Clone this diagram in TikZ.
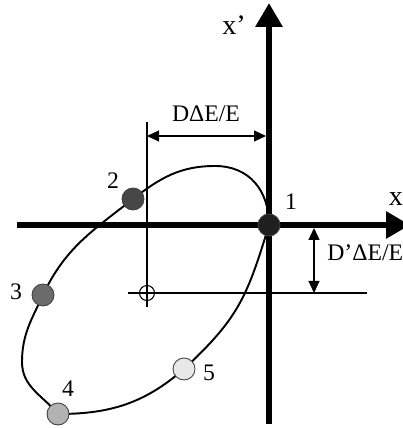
\documentclass[tikz,border=0pt]{standalone}
\usepackage{fontspec}
\setmainfont{Liberation Serif}
\usetikzlibrary{arrows.meta}

\begin{document}
\begin{tikzpicture}[x=0.02cm, y=0.02cm, font=\fontsize{13.5}{15}\selectfont,
axisline/.style={line width=3.4pt,-{Triangle[length=0.48cm,width=0.52cm]}},
orbit/.style={line width=1.1pt},
guide/.style={line width=0.6pt},
dimarr/.style={line width=0.6pt,{Triangle[length=0.24cm,width=0.22cm]}-{Triangle[length=0.24cm,width=0.22cm]}},
dot/.style={circle,draw=black!75,line width=0.5pt,minimum size=0.44cm,inner sep=0pt},
lbl/.style={inner sep=0pt},
axlbl/.style={inner sep=0pt,font=\fontsize{16}{18}\selectfont}]
\useasboundingbox (0,0) rectangle (402,428);
\coordinate (c1) at (269,203); \coordinate (c2) at (133,229); \coordinate (c3) at (43,133);
\coordinate (c4) at (58,14); \coordinate (c5) at (184,59);
\coordinate (top) at (215,262); \coordinate (left) at (22,66);
\coordinate (ctr) at (147,135);
\coordinate (xl) at (17,203); \coordinate (xr) at (410,203);
\coordinate (yb) at (269,4); \coordinate (yt) at (269,425);
\coordinate (g1) at (147,306); \coordinate (g2) at (147,121);
\coordinate (h1) at (128,135); \coordinate (h2) at (367,135);
\coordinate (da) at (147,292); \coordinate (db) at (266,292);
\coordinate (ea) at (314,200); \coordinate (eb) at (314,135);
\draw[guide] (g1)--(g2); \draw[guide] (h1)--(h2); \draw[guide] (ctr) circle[radius=7.5];
\draw[dimarr] (da)--(db); \draw[dimarr] (ea)--(eb);
\node[lbl] (dx) at (206,314) {DΔE/E};
\node[lbl,anchor=west] (dxp) at (327,175) {D’ΔE/E};
\draw[orbit] (c1) to[out=253,in=43,looseness=1.15] (c5) to[out=221,in=0] (c4) to[out=130,in=270] (left) to[out=90,in=245] (c3) to[out=65,in=218] (c2) to[out=38,in=180] (top) to[out=0,in=90,looseness=1.1] (c1);
\draw[axisline] (xl)--(xr); \draw[axisline] (yb)--(yt);
\node[axlbl] (xplbl) at (234,403) {x’};
\node[axlbl] (xlbl) at (396,229) {x};
\node[dot,fill=black!88] (p1) at (c1) {};
\node[dot,fill=black!72] (p2) at (c2) {};
\node[dot,fill=black!58] (p3) at (c3) {};
\node[dot,fill=black!30] (p4) at (c4) {};
\node[dot,fill=black!9] (p5) at (c5) {};
\node[lbl] (n1) at (291,226) {1};
\node[lbl] (n2) at (113,247) {2};
\node[lbl] (n3) at (16,136) {3};
\node[lbl] (n4) at (68,39) {4};
\node[lbl] (n5) at (209,55) {5};
\end{tikzpicture}
\end{document}
